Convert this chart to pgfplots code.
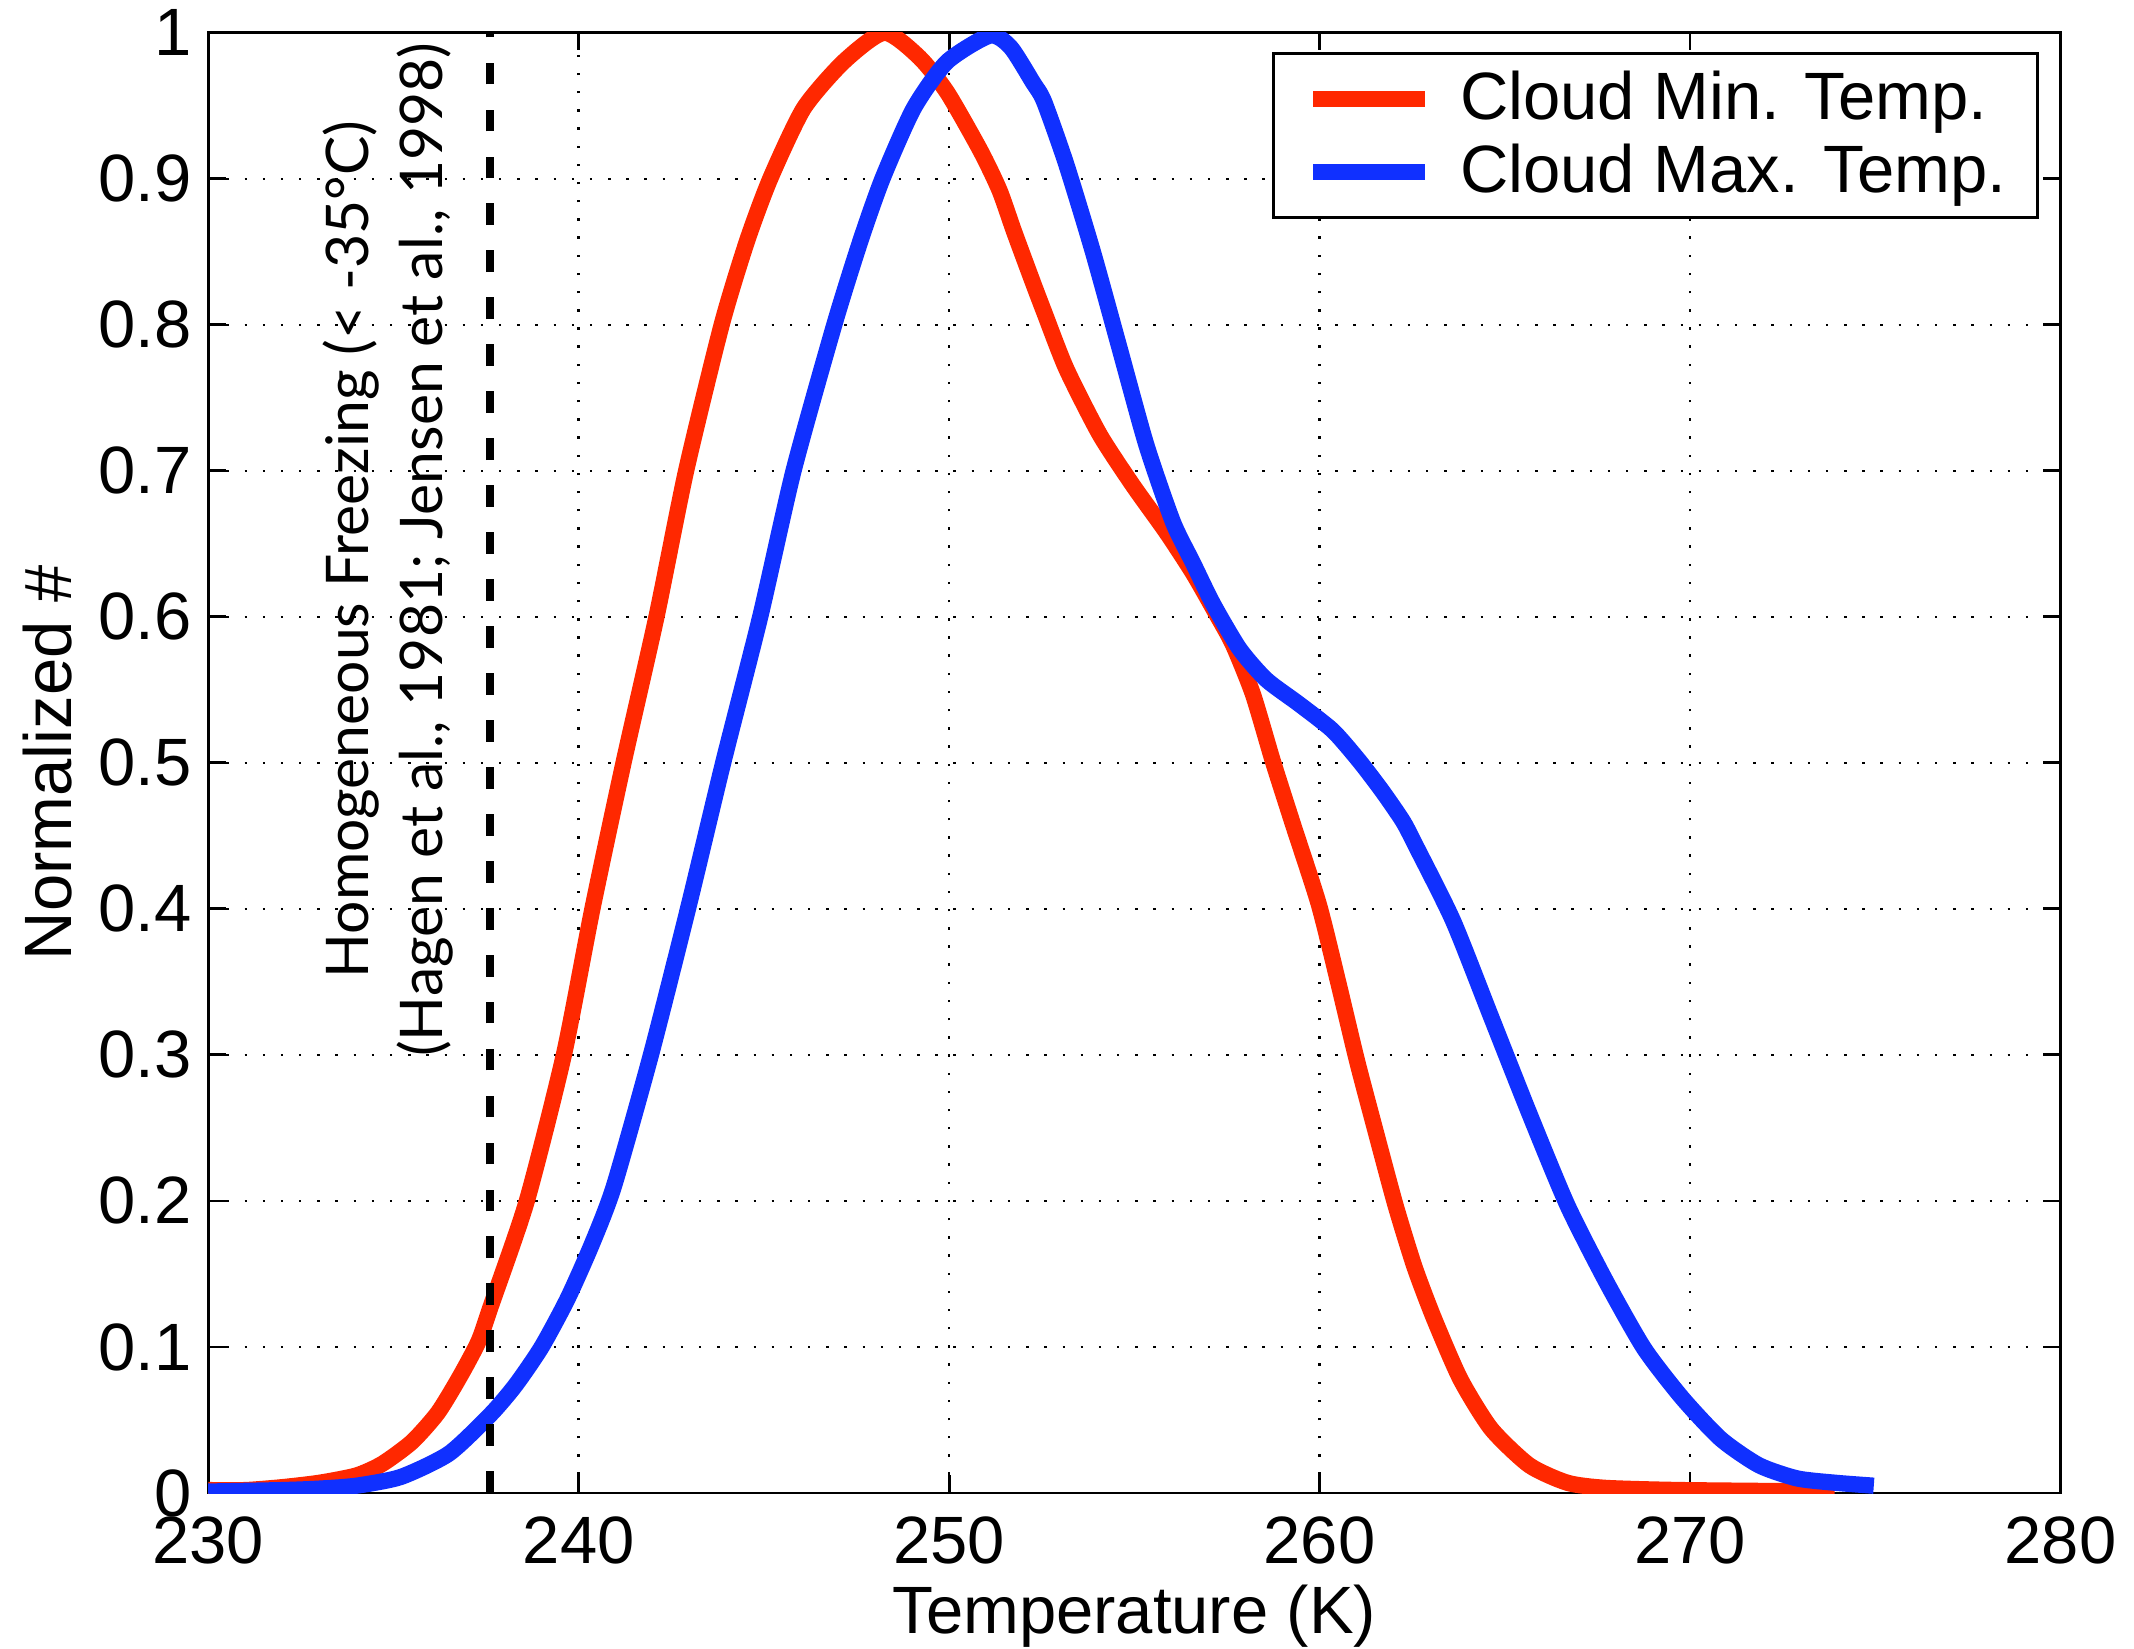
\documentclass[border=0pt]{standalone}
\usepackage{fontspec}
\setmainfont{Liberation Sans}
\newfontfamily\notefont{Lato}
\usepackage{pgfplots}
\pgfplotsset{compat=1.18}
\definecolor{minred}{RGB}{255,40,0}
\definecolor{maxblue}{RGB}{16,48,255}
\newcommand{\lblfont}{\fontsize{14}{17}\selectfont}

\begin{document}
\begin{tikzpicture}
\begin{axis}[
  name=ax,
  scale only axis,
  width=136.1mm, height=107.3mm,
  xmin=230, xmax=280, ymin=0, ymax=1,
  xtick={230,240,250,260,270,280},
  ytick={0,0.1,0.2,0.3,0.4,0.5,0.6,0.7,0.8,0.9,1},
  /pgf/number format/assume math mode=true,
  tick label style={font=\lblfont},
  xticklabel style={yshift=-0.5mm},
  label style={font=\lblfont},
  xlabel={Temperature (K)},
  ylabel={Normalized \#},
  xlabel style={yshift=0.9mm},
  ylabel style={yshift=-0.5mm},
  grid=major,
  major grid style={black, line width=0.5pt, dash pattern=on 0.5pt off 3.3pt},
  tick align=inside,
  major tick length=1.3mm,
  tick style={black, line width=0.6pt},
  axis line style={line width=0.6pt},
  legend image code/.code={\draw[#1] (0mm,0mm) -- (8.2mm,0mm);},
  legend cell align=left,
  legend style={at={(1,1)}, anchor=north east, xshift=-1.6mm, yshift=-1.4mm,
    font=\lblfont, draw=black, line width=0.6pt,
    inner xsep=2.3mm, inner ysep=1.3mm, row sep=1.3mm,
    nodes={inner sep=0pt},
    /tikz/every odd column/.append style={column sep=2mm}},
]
% Cloud minimum temperature
\addplot[minred, line width=3.4pt, smooth, tension=0.4] coordinates {
  (230,0.002) (231,0.002) (232,0.004) (233,0.007) (234,0.012) (234.7,0.020)
  (235.5,0.035) (236.2,0.055) (236.8,0.080) (237.3,0.104) (237.63,0.128)
  (238.6,0.200) (239.6,0.300) (240.37,0.400) (241.21,0.500) (242.1,0.600)
  (242.9,0.700) (243.86,0.800) (244.54,0.857) (245.17,0.900) (246.07,0.948)
  (247.15,0.980) (248.25,1.000) (249.2,0.983) (249.95,0.959) (250.85,0.919)
  (251.36,0.892) (251.75,0.864) (252.26,0.829) (252.56,0.809) (253.16,0.770)
  (254.06,0.725) (254.96,0.690) (255.86,0.658) (256.58,0.630) (257.21,0.602)
  (257.66,0.581) (258.2,0.547) (258.74,0.501) (259.28,0.458) (259.98,0.403)
  (260.5,0.350) (261.01,0.296) (261.53,0.246) (262.05,0.197) (262.56,0.155)
  (263.08,0.120) (263.8,0.078) (264.63,0.044) (265.66,0.019) (266.69,0.007)
  (267.73,0.0035) (269.8,0.002) (273.9,0.001)
};
\addlegendentry{Cloud Min. Temp.}
% Cloud maximum temperature
\addplot[maxblue, line width=3.4pt, smooth, tension=0.4] coordinates {
  (230,0.001) (232,0.002) (233,0.003) (234,0.005) (235.2,0.011) (236.5,0.027)
  (237.63,0.054) (238.3,0.074) (239.0,0.100) (239.7,0.133) (240.35,0.170)
  (240.95,0.210) (241.95,0.300) (242.95,0.400) (243.9,0.500) (244.9,0.600)
  (245.8,0.700) (246.9,0.800) (247.6,0.857) (248.2,0.900) (249.04,0.948)
  (249.94,0.980) (251.1,0.998) (251.66,0.990) (252.26,0.966)
  (252.56,0.953) (253.16,0.910) (253.88,0.850) (254.6,0.784) (255.32,0.718)
  (256.04,0.665) (256.58,0.637) (257.12,0.609) (257.84,0.578) (258.56,0.557)
  (259.46,0.540) (260.36,0.522) (261.08,0.501) (261.71,0.480) (262.25,0.460)
  (262.56,0.445) (263.6,0.392) (264.63,0.326) (265.66,0.260) (266.69,0.197)
  (267.73,0.145) (268.76,0.099) (269.79,0.065) (270.83,0.037) (271.86,0.019)
  (272.89,0.010) (273.93,0.007) (274.96,0.005)
};
\addlegendentry{Cloud Max. Temp.}
% homogeneous freezing threshold
\addplot[black, line width=1.75pt, dash pattern=on 1.6mm off 1.85mm, forget plot]
  coordinates {(237.6,0) (237.6,1)};
\node[rotate=90, align=center, font=\notefont\fontsize{12.3}{15.6}\selectfont]
  at (axis cs:234.85,0.646)
  {Homogeneous Freezing (< -35°C)\\(Hagen et al., 1981; Jensen et al., 1998)};
\end{axis}
\pgfresetboundingbox
\path (ax.south west) ++(-15.3mm,-11.4mm) rectangle ++(156.8mm,121.1mm);
\end{tikzpicture}
\end{document}
